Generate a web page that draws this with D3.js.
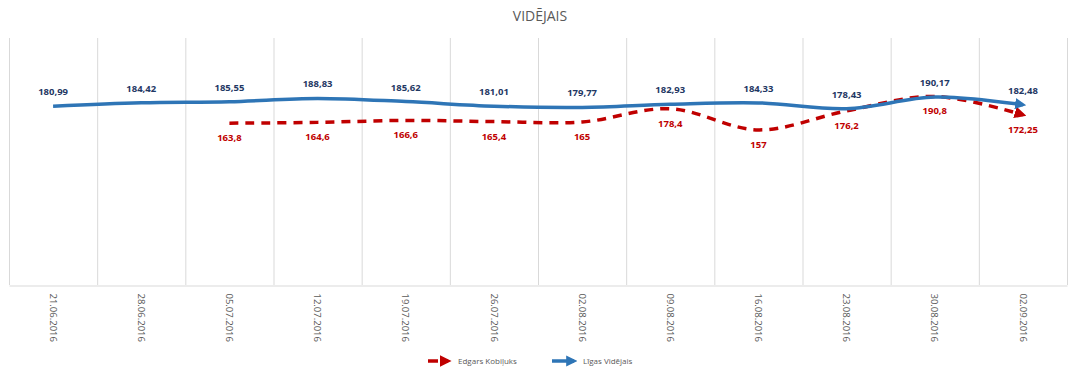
<!DOCTYPE html>
<html>
<head>
  <meta charset="utf-8" />
  <title>Vidējais</title>
  <style type="text/css">
  body { margin: 0; background: #fff; }
  svg text { font-family: "Open Sans", "DejaVu Sans", sans-serif; }
  </style>
  <script src="https://cdnjs.cloudflare.com/ajax/libs/d3/7.8.5/d3.min.js"></script>
</head>
<body>
<div id="chart"></div>
<script type="text/javascript">
// dates on the x axis
var dates = ["21.06.2016", "28.06.2016", "05.07.2016", "12.07.2016", "19.07.2016", "26.07.2016",
             "02.08.2016", "09.08.2016", "16.08.2016", "23.08.2016", "30.08.2016", "02.09.2016"];
// Līgas Vidējais
var ligaValues = [180.99, 184.42, 185.55, 188.83, 185.62, 181.01, 179.77, 182.93, 184.33, 178.43, 190.17, 182.48];
// Edgars Kobiļuks (starts on 05.07)
var edgarsValues = [null, null, 163.8, 164.6, 166.6, 165.4, 165, 178.4, 157, 176.2, 190.8, 172.25];
var seriesNames = ["Edgars Kobiļuks", "Līgas Vidējais"];

var w = 1080, h = 375;
var plotLeft = 9, plotRight = 1067, plotTop = 38, plotBottom = 285;

var svg = d3.select("#chart").append("svg")
  .attr("width", w).attr("height", h);

var x = d3.scaleBand().domain(dates).range([plotLeft, plotRight]);
var y = d3.scaleLinear().domain([0, 250]).range([plotBottom, plotTop]);

function cx(d) { return x(d) + x.bandwidth() / 2; }

// arrow markers
var defs = svg.append("defs");
defs.append("marker").attr("id", "arrBlue")
  .attr("viewBox", "0 0 10 10").attr("refX", 7).attr("refY", 5)
  .attr("markerWidth", 3.2).attr("markerHeight", 3.2).attr("orient", "auto")
  .attr("markerUnits", "strokeWidth")
  .append("path").attr("d", "M0,0L10,5L0,10z").attr("fill", "#2e75b6");
defs.append("marker").attr("id", "arrRed")
  .attr("viewBox", "0 0 10 10").attr("refX", 7).attr("refY", 5)
  .attr("markerWidth", 3.4).attr("markerHeight", 3.4).attr("orient", "auto")
  .attr("markerUnits", "strokeWidth")
  .append("path").attr("d", "M0,0L10,5L0,10z").attr("fill", "#c00000");

// title
svg.append("text").attr("x", 540).attr("y", 21)
  .attr("text-anchor", "middle").attr("fill", "#595959")
  .style("font-size", "14px").text("VIDĒJAIS");

// vertical gridlines on the band edges
var edges = dates.map(function(d) { return x(d); }).concat([plotRight]);
svg.selectAll("line.grid").data(edges).enter().append("line")
  .attr("class", "grid")
  .attr("x1", function(d) { return d + 0.5; }).attr("x2", function(d) { return d + 0.5; })
  .attr("y1", plotTop).attr("y2", plotBottom)
  .attr("stroke", "#d9d9d9").attr("stroke-width", 1);

// bottom axis
var xAxis = svg.append("g").attr("transform", "translate(0," + (plotBottom + 0.5) + ")")
  .call(d3.axisBottom(x).tickSize(0).tickPadding(0));
xAxis.select(".domain").attr("stroke", "#d9d9d9");
xAxis.selectAll("text")
  .attr("fill", "#595959").style("font-size", "9.5px")
  .attr("transform", "rotate(90)")
  .attr("x", 8).attr("y", 0).attr("dy", "0.35em")
  .attr("text-anchor", "start");

var line = d3.line()
  .defined(function(d) { return d.v != null; })
  .x(function(d) { return cx(d.date); })
  .y(function(d) { return y(d.v); })
  .curve(d3.curveCatmullRom.alpha(0.5));

var ligaData = dates.map(function(d, i) { return { date: d, v: ligaValues[i] }; });
var edgarsData = dates.map(function(d, i) { return { date: d, v: edgarsValues[i] }; })
  .filter(function(d) { return d.v != null; });

svg.append("path").datum(edgarsData)
  .attr("d", line).attr("fill", "none")
  .attr("stroke", "#c00000").attr("stroke-width", 3.5)
  .attr("stroke-dasharray", "9,7")
  .attr("marker-end", "url(#arrRed)");

svg.append("path").datum(ligaData)
  .attr("d", line).attr("fill", "none")
  .attr("stroke", "#2e75b6").attr("stroke-width", 3.5)
  .attr("marker-end", "url(#arrBlue)");

function fmt(v) { return String(v).replace(".", ","); }

// data labels
svg.selectAll("text.lblBlue").data(ligaData).enter().append("text")
  .attr("class", "lblBlue")
  .attr("x", function(d) { return cx(d.date); })
  .attr("y", function(d) { return y(d.v) - 11; })
  .attr("text-anchor", "middle").attr("fill", "#1f3864")
  .style("font-size", "9.5px").style("font-weight", "bold")
  .text(function(d) { return fmt(d.v); });

svg.selectAll("text.lblRed").data(edgarsData).enter().append("text")
  .attr("class", "lblRed")
  .attr("x", function(d) { return cx(d.date); })
  .attr("y", function(d) { return y(d.v) + 18; })
  .attr("text-anchor", "middle").attr("fill", "#c00000")
  .style("font-size", "9.5px").style("font-weight", "bold")
  .text(function(d) { return fmt(d.v); });

// legend
var lg = svg.append("g").attr("transform", "translate(0,361)");
lg.append("line").attr("x1", 428).attr("x2", 438).attr("y1", 0).attr("y2", 0)
  .attr("stroke", "#c00000").attr("stroke-width", 3.5);
lg.append("line").attr("x1", 444).attr("x2", 448).attr("y1", 0).attr("y2", 0)
  .attr("stroke", "#c00000").attr("stroke-width", 3.5)
  .attr("marker-end", "url(#arrRed)");
lg.append("text").attr("x", 458).attr("y", 0).attr("dy", "0.35em")
  .attr("fill", "#595959").style("font-size", "8px").text(seriesNames[0]);
lg.append("line").attr("x1", 552).attr("x2", 574).attr("y1", 0).attr("y2", 0)
  .attr("stroke", "#2e75b6").attr("stroke-width", 3.5)
  .attr("marker-end", "url(#arrBlue)");
lg.append("text").attr("x", 583).attr("y", 0).attr("dy", "0.35em")
  .attr("fill", "#595959").style("font-size", "8px").text(seriesNames[1]);
</script>
</body>
</html>
